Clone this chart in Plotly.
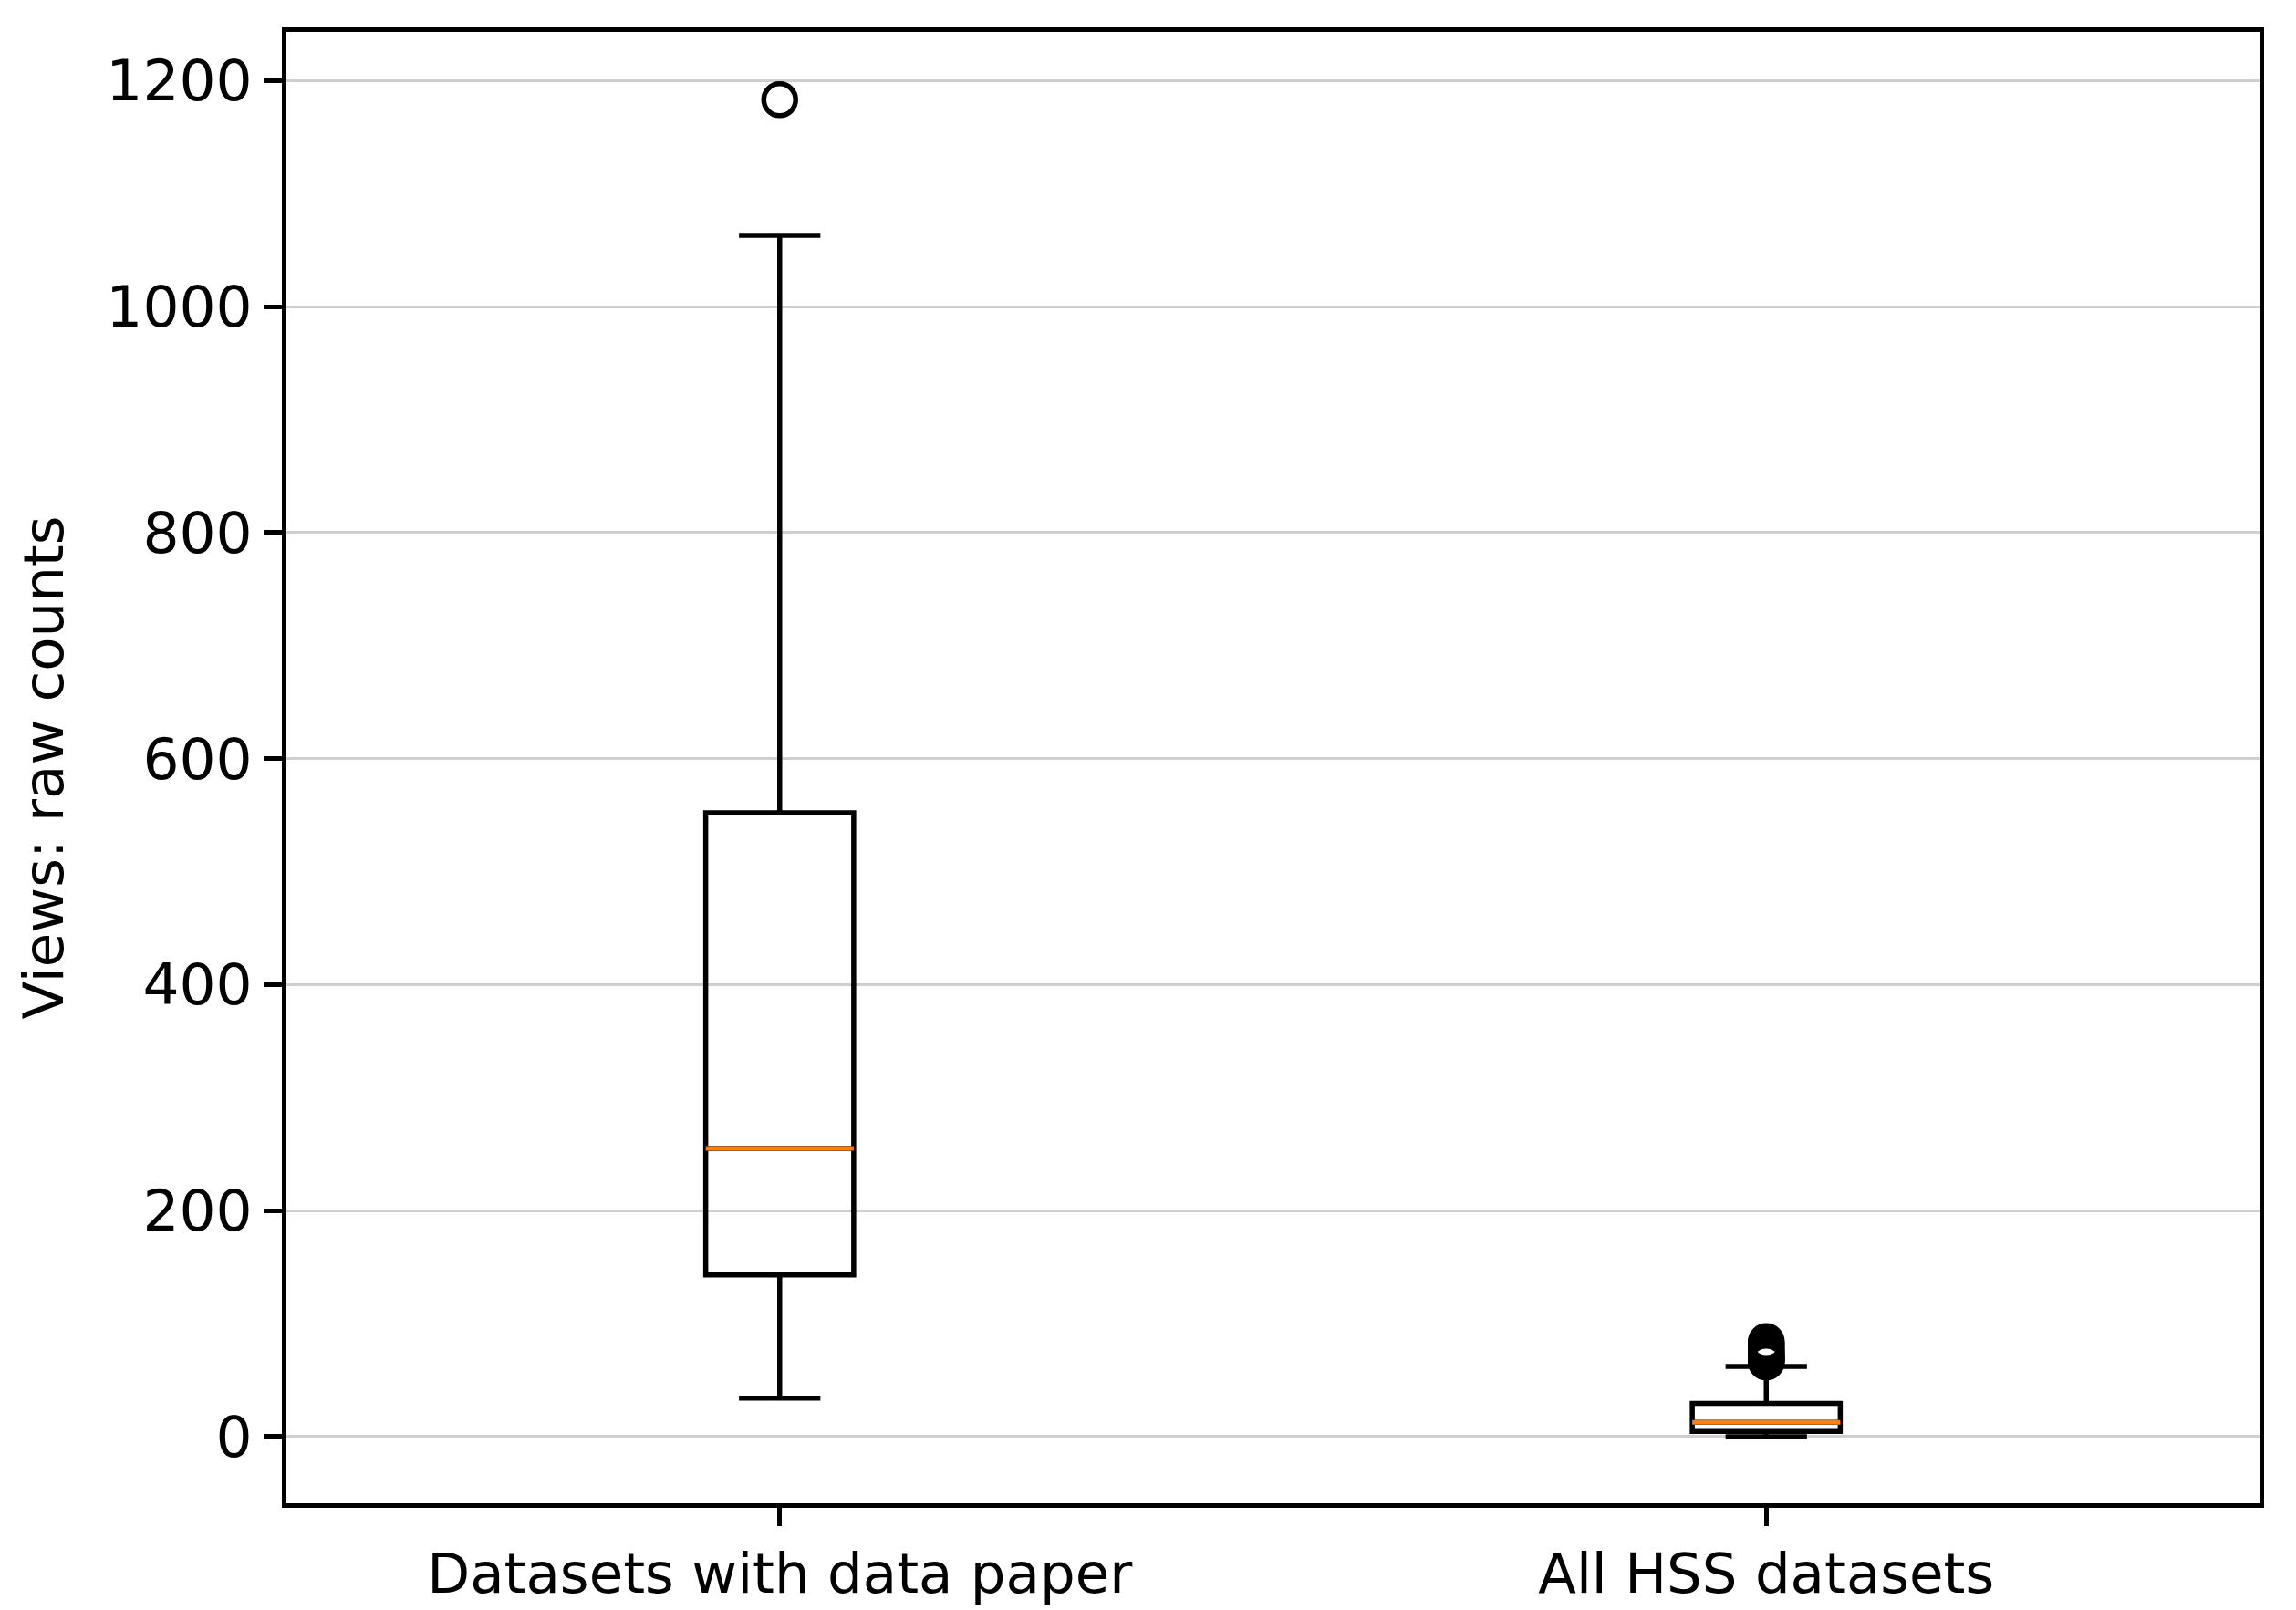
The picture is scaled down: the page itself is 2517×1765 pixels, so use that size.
import plotly.graph_objects as go

# Box statistics (views, raw counts)
categories = ["Datasets with data paper", "All HSS datasets"]
positions = [1, 2]
q1 = [143, 4.5]
median = [255, 12.7]
q3 = [552, 29.3]
lower_whisker = [34, 0]
upper_whisker = [1063, 62]

# Outliers
outliers_paper = [1183]
outliers_hss = [66, 67, 68, 69, 70, 71, 72, 73, 75, 76, 78, 80, 82, 84]

font = "DejaVu Sans"
black = "#000000"

# Box + whiskers (black)
box = go.Box(x=positions, q1=q1, median=median, q3=q3,
             lowerfence=lower_whisker, upperfence=upper_whisker,
             width=0.15, whiskerwidth=0.55,
             line=dict(color=black, width=5.5),
             fillcolor="rgba(0,0,0,0)",
             boxpoints=False, hoverinfo="skip", showlegend=False)

# Median line in orange, drawn as a flat box on top
med = go.Box(x=positions, q1=median, median=median, q3=median,
             lowerfence=median, upperfence=median,
             width=0.15, whiskerwidth=0,
             line=dict(color="#ff7f0e", width=5),
             fillcolor="rgba(0,0,0,0)",
             boxpoints=False, hoverinfo="skip", showlegend=False)

out_x = [positions[0]] * len(outliers_paper) + [positions[1]] * len(outliers_hss)
out_y = outliers_paper + outliers_hss
fliers = go.Scatter(x=out_x, y=out_y, mode="markers",
                    marker=dict(symbol="circle-open", size=35, color=black,
                                line=dict(width=5.5, color=black)),
                    hoverinfo="skip", showlegend=False)

fig = go.Figure(data=[box, med, fliers])

fig.update_layout(
    width=2517, height=1765,
    margin=dict(l=306, r=48, t=27, b=125),
    plot_bgcolor="white", paper_bgcolor="white",
    boxmode="overlay",
    font=dict(family=font, size=61, color=black),
)
fig.update_xaxes(range=[0.5, 2.5], tickmode="array", tickvals=positions,
                 ticktext=categories, showgrid=False, zeroline=False,
                 showline=True, linecolor=black, linewidth=4.5, mirror=True,
                 ticks="outside", ticklen=20, tickwidth=4.5, tickcolor=black,
                 tickfont=dict(size=61))
fig.update_yaxes(range=[-59, 1243], tickvals=[0, 200, 400, 600, 800, 1000, 1200],
                 showgrid=True, gridcolor="#cfcfcf", gridwidth=3, zeroline=False,
                 showline=True, linecolor=black, linewidth=4.5, mirror=True,
                 ticks="outside", ticklen=20, tickwidth=4.5, tickcolor=black,
                 tickfont=dict(size=63),
                 title=dict(text="Views: raw counts", font=dict(size=61), standoff=28))

fig.write_html("out.html")
